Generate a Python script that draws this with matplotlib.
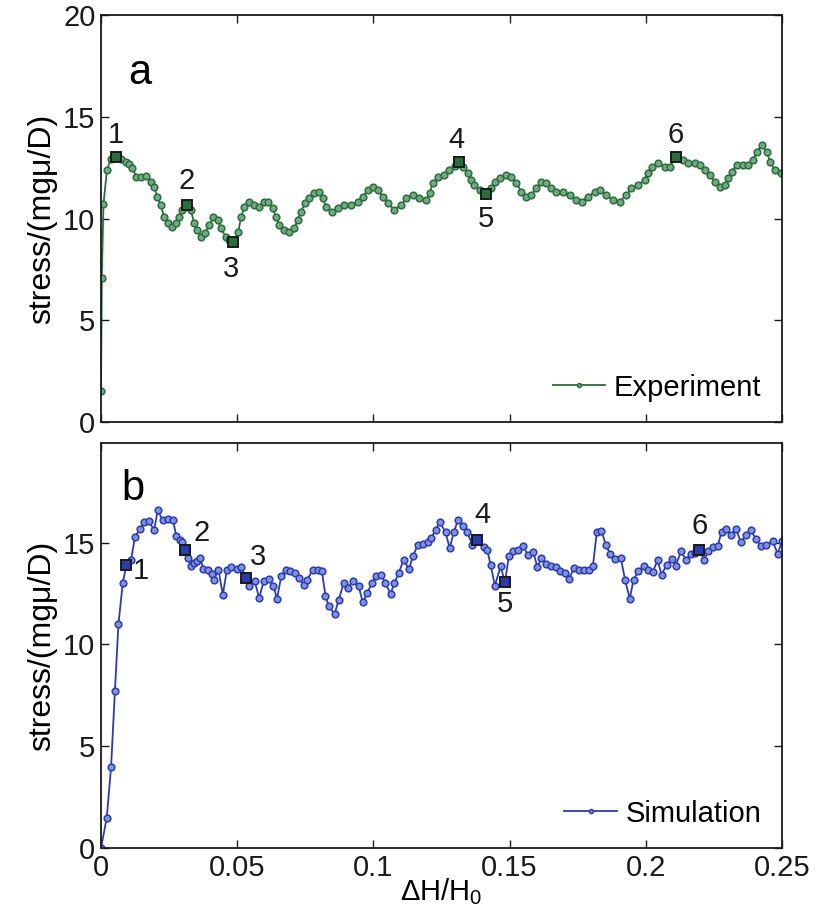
import matplotlib
matplotlib.use("Agg")
import matplotlib.pyplot as plt

plt.rcParams['font.family'] = ['Liberation Sans', 'DejaVu Sans']
plt.rcParams['mathtext.default'] = 'regular'

# ---------------- data ----------------
exp_x = [0.0, 0.0003, 0.0009, 0.0022, 0.0036, 0.0054, 0.0072, 0.0091, 0.0103, 0.0115,
         0.013, 0.0146, 0.0164, 0.0183, 0.0195, 0.0207, 0.0219, 0.0232, 0.0246, 0.0262,
         0.0275, 0.0287, 0.0299, 0.0315, 0.033, 0.0342, 0.0354, 0.0367, 0.0381, 0.0397,
         0.0412, 0.0428, 0.044, 0.0458, 0.0471, 0.0486, 0.0504, 0.0514, 0.0526, 0.0544,
         0.0563, 0.0581, 0.0599, 0.0614, 0.063, 0.0642, 0.0654, 0.0673, 0.0691, 0.071,
         0.0722, 0.0734, 0.0749, 0.0765, 0.0783, 0.0801, 0.0814, 0.0826, 0.0847, 0.0869,
         0.0893, 0.0918, 0.0942, 0.096, 0.0979, 0.0997, 0.1016, 0.1034, 0.1053, 0.1077,
         0.1102, 0.112, 0.1144, 0.1169, 0.1194, 0.1206, 0.1218, 0.1236, 0.1261, 0.1279,
         0.1298, 0.1313, 0.1328, 0.1347, 0.1359, 0.1371, 0.139, 0.1412, 0.1433, 0.1445,
         0.1463, 0.1488, 0.1506, 0.1525, 0.1543, 0.1561, 0.158, 0.1598, 0.1616, 0.1635,
         0.1653, 0.1671, 0.1696, 0.1721, 0.1745, 0.1764, 0.1788, 0.1813, 0.1831, 0.1855,
         0.188, 0.1904, 0.1929, 0.1947, 0.1972, 0.1996, 0.2008, 0.2021, 0.2045, 0.207,
         0.2088, 0.211, 0.2137, 0.2155, 0.218, 0.2199, 0.2217, 0.2235, 0.2254, 0.2272,
         0.2291, 0.2303, 0.2315, 0.2333, 0.2358, 0.2376, 0.2394, 0.2407, 0.2425, 0.2444,
         0.2456, 0.2474, 0.2495]
exp_y = [1.5, 7.1, 10.7, 12.4, 12.9, 13.04, 12.9, 12.8, 12.7, 12.47,
         12.05, 12.05, 12.1, 11.81, 11.56, 11.07, 10.66, 10.09, 9.76, 9.6,
         9.76, 10.09, 10.42, 10.66, 10.42, 9.76, 9.43, 9.1, 9.27, 9.68,
         10.06, 9.93, 9.52, 9.1, 8.94, 8.86, 9.35, 10.06, 10.58, 10.83,
         10.66, 10.58, 10.83, 10.8, 10.5, 10.09, 9.68, 9.43, 9.35, 9.52,
         9.93, 10.33, 10.75, 10.99, 11.24, 11.32, 10.99, 10.58, 10.33, 10.5,
         10.66, 10.66, 10.83, 11.07, 11.4, 11.56, 11.4, 11.07, 10.75, 10.42,
         10.66, 10.99, 11.15, 10.99, 10.91, 11.24, 11.73, 12.05, 12.14, 12.38,
         12.6, 12.76, 12.55, 12.22, 11.89, 11.65, 11.4, 11.2, 11.48, 11.81,
         11.97, 12.14, 12.05, 11.73, 11.32, 11.07, 11.15, 11.48, 11.81, 11.73,
         11.48, 11.32, 11.3, 11.15, 10.91, 10.83, 11.07, 11.32, 11.4, 11.15,
         10.91, 10.83, 11.15, 11.48, 11.65, 11.89, 12.22, 12.55, 12.71, 12.55,
         12.55, 13.0, 12.87, 12.71, 12.71, 12.63, 12.38, 12.14, 11.81, 11.56,
         11.65, 11.97, 12.3, 12.63, 12.63, 12.63, 12.87, 13.28, 13.61, 13.28,
         12.79, 12.38, 12.22]
exp_marked = [5, 23, 35, 81, 87, 121]

sim_x = [0.0, 0.0021, 0.0037, 0.0051, 0.0064, 0.008, 0.0093, 0.011, 0.0125, 0.0143,
         0.0159, 0.0176, 0.0195, 0.0208, 0.0227, 0.0245, 0.0264, 0.0276, 0.029, 0.0299,
         0.0309, 0.0321, 0.033, 0.0342, 0.0353, 0.0364, 0.0376, 0.0394, 0.0407, 0.0415,
         0.0431, 0.0447, 0.0462, 0.0478, 0.0499, 0.0515, 0.0532, 0.0545, 0.0564, 0.0581,
         0.0597, 0.0615, 0.0633, 0.0646, 0.0662, 0.0679, 0.0695, 0.0713, 0.0728, 0.0744,
         0.0758, 0.0777, 0.0797, 0.0811, 0.0824, 0.0836, 0.0858, 0.0872, 0.0891, 0.0907,
         0.0924, 0.0946, 0.0961, 0.0977, 0.0995, 0.101, 0.1028, 0.1044, 0.1063, 0.1077,
         0.1093, 0.1111, 0.113, 0.1146, 0.1163, 0.1183, 0.12, 0.1213, 0.1228, 0.1244,
         0.1265, 0.128, 0.1295, 0.1311, 0.133, 0.1345, 0.1363, 0.1381, 0.1406, 0.1418,
         0.143, 0.1446, 0.1467, 0.1483, 0.1497, 0.1514, 0.1531, 0.155, 0.1567, 0.1587,
         0.1602, 0.1617, 0.1632, 0.1651, 0.1669, 0.1685, 0.1702, 0.1718, 0.1736, 0.1755,
         0.1773, 0.1792, 0.1806, 0.182, 0.1837, 0.1853, 0.1869, 0.1886, 0.1908, 0.1924,
         0.1941, 0.1955, 0.1972, 0.1992, 0.2008, 0.2025, 0.2043, 0.2058, 0.2077, 0.2096,
         0.211, 0.2129, 0.2147, 0.2165, 0.2181, 0.2196, 0.2214, 0.2229, 0.2245, 0.2264,
         0.2278, 0.2294, 0.2312, 0.2331, 0.2349, 0.2368, 0.2386, 0.2404, 0.2423, 0.2441,
         0.2466, 0.2484, 0.25]
sim_y = [0.0, 1.47, 3.98, 7.7, 11.0, 13.03, 13.9, 14.13, 15.3, 15.67,
         16.02, 16.05, 15.61, 16.59, 16.1, 16.17, 16.13, 15.35, 15.15, 15.02,
         14.66, 14.25, 13.84, 14.0, 14.1, 14.25, 13.71, 13.68, 13.48, 13.18,
         13.68, 12.45, 13.64, 13.81, 13.71, 13.81, 13.27, 12.86, 13.1, 12.29,
         13.1, 13.22, 12.89, 12.24, 13.38, 13.64, 13.63, 13.51, 13.27, 12.94,
         13.18, 13.68, 13.64, 13.59, 12.4, 11.87, 11.51, 12.17, 13.02, 12.78,
         13.1, 12.86, 12.07, 12.53, 13.02, 13.38, 13.43, 13.02, 12.5, 13.02,
         13.51, 14.17, 13.71, 14.36, 14.9, 14.95, 15.02, 15.23, 15.64, 16.0,
         15.51, 14.74, 15.51, 16.13, 15.8, 15.51, 14.9, 15.12, 14.79, 14.66,
         13.92, 12.89, 13.84, 13.05, 14.33, 14.57, 14.66, 14.82, 14.41, 14.53,
         13.81, 14.25, 13.97, 13.84, 13.81, 13.59, 13.5, 13.22, 13.74, 13.68,
         13.64, 13.68, 13.87, 15.51, 15.59, 14.9, 14.45, 14.2, 14.25, 13.18,
         12.24, 13.18, 13.59, 13.84, 13.68, 13.54, 14.13, 13.43, 13.92, 14.2,
         13.87, 14.57, 14.17, 14.46, 14.5, 14.62, 14.17, 14.57, 14.79, 14.86,
         15.51, 15.67, 15.4, 15.67, 15.02, 15.4, 15.61, 15.18, 14.82, 14.9,
         15.07, 14.46, 15.07]
sim_marked = [6, 20, 36, 87, 93, 135]

point_labels = ['1', '2', '3', '4', '5', '6']
x_ticks = [0, 0.05, 0.1, 0.15, 0.2, 0.25]
x_ticklabels = ['0', '0.05', '0.1', '0.15', '0.2', '0.25']
top_yticks = [0, 5, 10, 15, 20]
bot_yticks = [0, 5, 10, 15]

# label offsets in pixels (dx, dy)
exp_offsets = [(0, 22), (0, 24), (-2, -27), (-2, 22), (0, -25), (0, 22)]
sim_offsets = [(14, -6), (16, 17), (12, 21), (5, 25), (0, -22), (0, 24)]

# ---------------- figure ----------------
W, H = 818, 923
fig = plt.figure(figsize=(W / 100, H / 100), dpi=100)

def axrect(l, r, t, b):
    return [l / W, 1 - b / H, (r - l) / W, (b - t) / H]

ax1 = fig.add_axes(axrect(101, 782, 15, 422))
ax2 = fig.add_axes(axrect(101, 782, 443, 848))

green = '#2a6e3e'
green_face = '#74a982'
blue = '#2a3cae'
blue_face = '#8390db'
fs = 21

def style(ax, yticks, ylim):
    ax.set_xlim(0, 0.25)
    ax.set_ylim(*ylim)
    ax.set_xticks(x_ticks)
    ax.set_yticks(yticks)
    ax.tick_params(direction='in', length=6, width=1.0, top=True, right=True,
                   labelsize=fs, pad=4, colors='#1a1a1a')
    for s in ax.spines.values():
        s.set_linewidth(1.3)
        s.set_color('#1a1a1a')
    ax.set_ylabel('stress/(mgμ/D)', fontsize=fs + 2, labelpad=4)

def draw(ax, x, y, marked, offsets, color, face, label):
    ax.plot(x, y, '-o', color=color, lw=1.3, ms=4.8, mfc=face, mec=color,
            mew=1.1, label=label, zorder=2)
    ax.plot([x[i] for i in marked], [y[i] for i in marked], 's', ms=7.5,
            mfc=color, mec='#1a1a1a', mew=1.4, zorder=3)
    for i, t, (dx, dy) in zip(marked, point_labels, offsets):
        ax.annotate(t, (x[i], y[i]), xytext=(dx, dy), textcoords='offset pixels',
                    ha='center', va='center', fontsize=fs, color='#1a1a1a')

draw(ax1, exp_x, exp_y, exp_marked, exp_offsets, green, green_face, 'Experiment')
draw(ax2, sim_x, sim_y, sim_marked, sim_offsets, blue, blue_face, 'Simulation')

style(ax1, top_yticks, (0, 20))
style(ax2, bot_yticks, (0, 19.9))
ax1.set_xticklabels([])
ax2.set_xticklabels(x_ticklabels)
ax2.set_xlabel('ΔH/H$_0$', fontsize=fs, labelpad=-4)

ax1.text(0.04, 0.83, 'a', transform=ax1.transAxes, fontsize=30, va='baseline', ha='left')
ax2.text(0.03, 0.86, 'b', transform=ax2.transAxes, fontsize=30, va='baseline', ha='left')

for ax in (ax1, ax2):
    leg = ax.legend(loc='lower right', frameon=False, fontsize=fs, handlelength=1.8,
                    handletextpad=0.3, borderaxespad=0.3, markerscale=0.6)

fig.savefig('out.png', dpi=100)
